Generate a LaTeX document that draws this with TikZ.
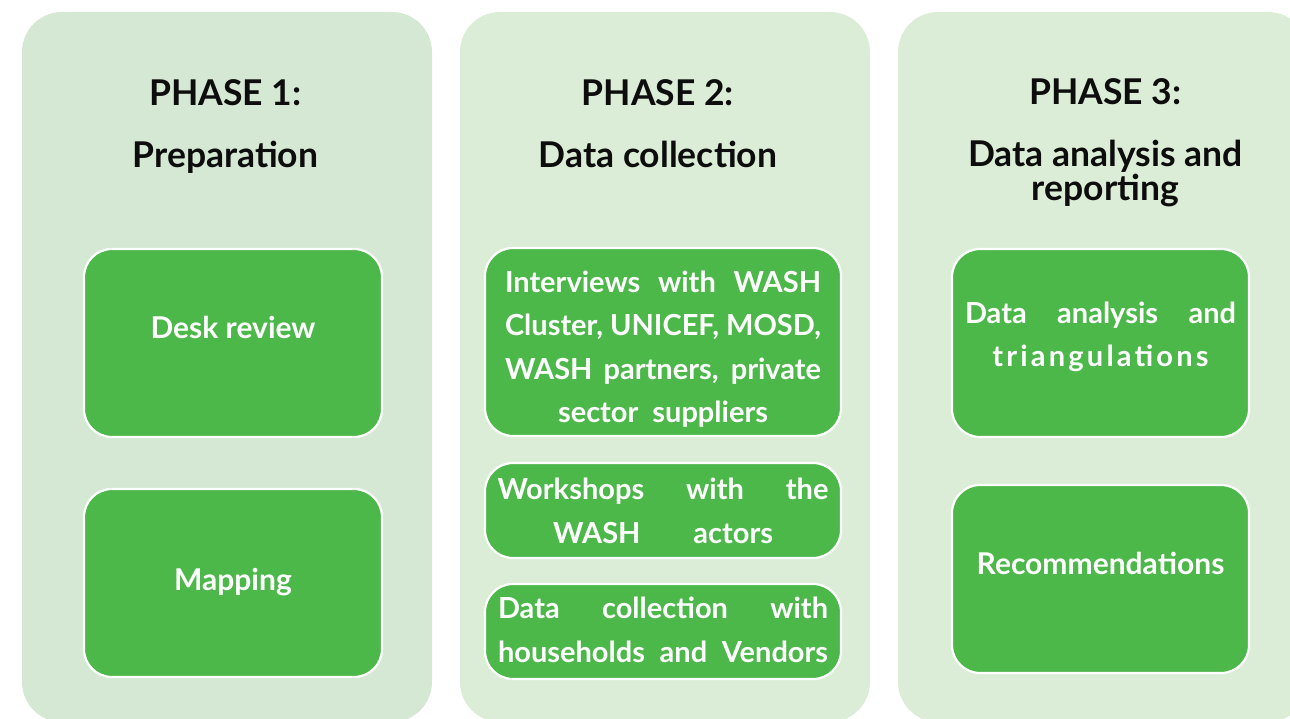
\documentclass[tikz,border=0pt]{standalone}
\usepackage{fontspec}
\setmainfont{Lato}
\usepackage{tikz}
\usetikzlibrary{positioning}
\definecolor{phaseA}{HTML}{D5E8D3}
\definecolor{phaseB}{HTML}{DBEDD6}
\definecolor{stepgreen}{HTML}{4DB84A}
\newcommand{\tightlines}{\lineskiplimit-50pt\relax}
\tikzstyle{phase}=[rectangle,
	rounded corners=40pt,
	minimum width=410pt,
	minimum height=710pt,
	inner sep=0pt]
\tikzstyle{heading}=[align=center,
	anchor=base,
	inner sep=0pt,
	text=black!95,
	font={\fontsize{35.5}{34}\selectfont\bfseries\tightlines}]
\tikzstyle{task}=[rectangle,
	rounded corners=28pt,
	line width=2.2pt,
	draw=white,
	fill=stepgreen,
	text=white,
	inner sep=0pt,
	minimum width=298pt,
	minimum height=188pt,
	font=\fontsize{30}{34}\selectfont\bfseries]
\tikzstyle{tasklist}=[task,
	align=center,
	font={\fontsize{29}{43.5}\selectfont\bfseries\tightlines}]

\begin{document}
\begin{tikzpicture}[x=1pt,y=1pt]
	\useasboundingbox (0,0) rectangle (1290,718);
	\clip (0,0) rectangle (1290,718);
	% phase panels
	\node (phase1) [phase, fill=phaseA] at (227,351) {};
	\node (phase2) [phase, fill=phaseB, right of=phase1, node distance=438pt] {};
	\node (phase3) [phase, fill=phaseB, right of=phase2, node distance=438pt] {};
	\node (head1) [heading] at (225.5,550) {PHASE 1:\\[28pt]Preparation};
	\node (head2) [heading] at (658,550) {PHASE 2:\\[28pt]Data collection};
	\node (head3) [heading] at (1105.5,517) {PHASE 3:\\[28pt]Data analysis and\\reporting};

	% phase 1
	\node (desk) [task, text height=21pt, text depth=29pt] at (233,375) {Desk review};
	\node (mapping) [task, text height=21pt, text depth=7pt, below of=desk, node distance=240pt] {Mapping};

	% phase 2
	\node (interviews) [tasklist, minimum width=356pt, text height=172pt, text depth=10pt] at (663,376)
		{\makebox[316pt][s]{Interviews with WASH}\\
		 \makebox[316pt][s]{Cluster, UNICEF, MOSD,}\\
		 \makebox[316pt][s]{WASH partners, private}\\
		 \makebox[210pt][s]{sector suppliers}};
	\node (workshops) [tasklist, minimum width=356pt, minimum height=95pt, text height=75pt, text depth=10pt, below of=interviews, node distance=168.5pt]
		{\makebox[331pt][s]{Workshops with the}\\
		 \makebox[220pt][s]{WASH actors}};
	\node (households) [tasklist, minimum width=356pt, minimum height=95pt, text height=71pt, text depth=10pt, below of=workshops, node distance=121pt]
		{\makebox[330pt][s]{Data collection with}\\
		 \makebox[330pt][s]{households and Vendors}};

	% phase 3
	\node (analysis) [tasklist, minimum width=297pt, text height=58pt, text depth=10pt] at (1100.5,375)
		{\makebox[271pt][s]{Data analysis and}\\
		 {\addfontfeature{LetterSpace=11}triangulations}};
	\node (recommend) [task, minimum width=297pt, text height=21pt, text depth=31pt, below of=analysis, node distance=236pt] {Recommendations};
\end{tikzpicture}
\end{document}
